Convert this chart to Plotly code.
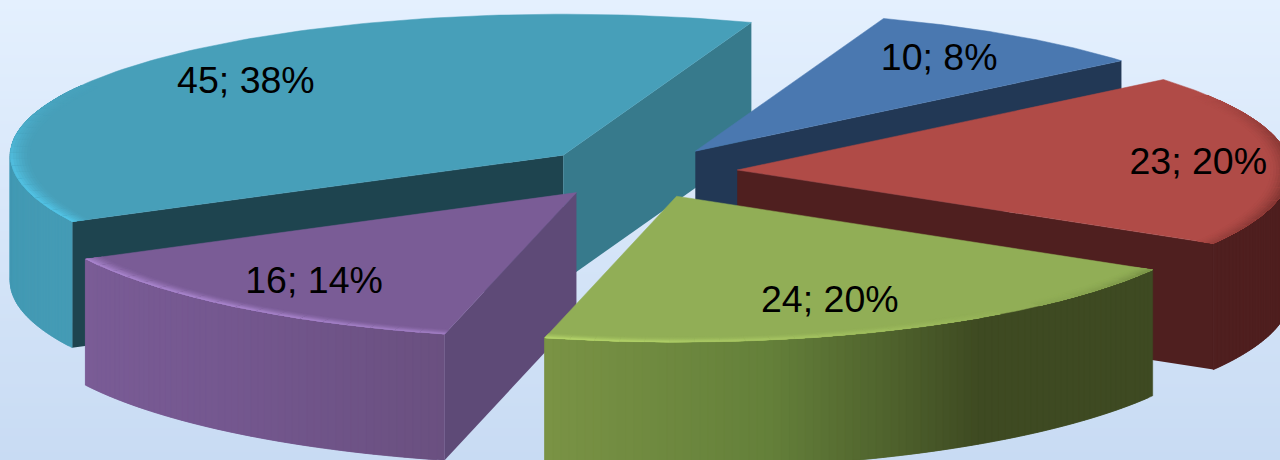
import numpy as np
import plotly.graph_objects as go

# Slice data, clockwise from the first slice
categories = ["A", "B", "C", "D", "E"]
values = [10, 23, 24, 16, 45]
labels = ["10; 8%", "23; 20%", "24; 20%", "16; 14%", "45; 38%"]

# Colour per slice
top_colors = ["#4a78b0", "#b04b47", "#91ae56", "#7a5c96", "#479fb9"]
start_wall_colors = ["#223855", "#4f1f1f", "#3e4a22", "#5e4a77", "#1e444f"]
end_wall_colors = ["#223855", "#4f1f1f", "#3e4a22", "#5e4a77", "#377a8c"]
rim_light_colors = ["#7fa8dc", "#d9706c", "#bfe070", "#a884cc", "#52c4e6"]
rim_dark_colors = ["#2c4a72", "#6a2a27", "#4a5a28", "#4a3760", "#2a6a80"]
# Side-wall colours along each slice's arc, (fraction of the arc, colour)
side_stops = [
    [(0, "#223855"), (1, "#223855")],
    [(0, "#4f1f1f"), (1, "#4f1f1f")],
    [(0, "#3e4a22"), (0.36, "#3e4a22"), (0.68, "#64803a"), (1, "#7a9345")],
    [(0, "#6a5080"), (0.5, "#74578f"), (1, "#7a5c96")],
    [(0, "#449bb5"), (1, "#3f93ad")],
]

# Pie geometry in page pixels
ROTATION = 19.9
CENTER_X, CENTER_Y = 638.0, 172.0
RADIUS_X = 553.0
RADIUS_Y_FAR, RADIUS_Y_NEAR = 141.0, 146.0
EXPLODE = 0.18
DEPTH = 126.0
LABEL_RADIUS = 0.78
LABEL_NUDGE = [(-4.5, 0), (31, 3), (-14, 2), (4.4, 2), (7, 1)]
LABEL_SIZE = 37.5
RIM_START = 0.965
RIM_RINGS = 7

# Paint order, back to front
DRAW_ORDER = [4, 0, 1, 3, 2]


def hex_rgb(c):
    return np.array([int(c[i:i + 2], 16) for i in (1, 3, 5)], dtype=float)


def mix(a, b, t):
    rgb = hex_rgb(a) * (1 - t) + hex_rgb(b) * t
    return "rgb({:.0f},{:.0f},{:.0f})".format(*rgb)


def ramp(stops, t):
    for (t0, c0), (t1, c1) in zip(stops, stops[1:]):
        if t <= t1:
            return mix(c0, c1, (t - t0) / (t1 - t0))
    return stops[-1][1]


def arc(ax, ay, r, deg):
    rad = np.radians(deg)
    c = np.cos(rad)
    ry = (RADIUS_Y_FAR + RADIUS_Y_NEAR) / 2 + (RADIUS_Y_FAR - RADIUS_Y_NEAR) / 2 * c
    return ax + RADIUS_X * r * np.sin(rad), ay - ry * r * c


def poly(xs, ys, color, edge=0.0):
    return go.Scatter(
        x=list(xs), y=list(ys), mode="lines", fill="toself", fillcolor=color,
        line=dict(color=color, width=edge), hoverinfo="skip", showlegend=False,
    )


total = sum(values)
sweeps = [v / total * 360 for v in values]
starts = [ROTATION + sum(sweeps[:i]) for i in range(len(values))]

fig = go.Figure()

# Page background: soft vertical gradient
fig.add_trace(go.Heatmap(
    x=[0, 1280], y=[0, 460], z=[[0, 0], [1, 1]], zsmooth="best", showscale=False,
    colorscale=[[0, "#e4f0fe"], [1, "#c8dbf3"]], hoverinfo="skip",
))

label_x, label_y = [], []
for i in DRAW_ORDER:
    a0, a1 = starts[i], starts[i] + sweeps[i]
    mid = (a0 + a1) / 2
    ax, ay = arc(CENTER_X, CENTER_Y, EXPLODE, mid)

    # Flat cut faces, only those turned toward the viewer
    for ang, col, facing in (
        (a0, start_wall_colors[i], np.sin(np.radians(a0)) < 0),
        (a1, end_wall_colors[i], np.sin(np.radians(a1)) > 0),
    ):
        if facing:
            ex, ey = arc(ax, ay, 1, ang)
            fig.add_trace(poly([ax, ex, ex, ax, ax],
                               [ay, ey, ey + DEPTH, ay + DEPTH, ay], col))

    # Curved outer wall; each strip runs one step past the next so no seams show
    grid = np.linspace(a0, a1, max(int(sweeps[i] * 1.2), 16))
    for n in range(len(grid) - 1):
        p, q = grid[n], grid[min(n + 2, len(grid) - 1)]
        if np.cos(np.radians((grid[n] + grid[n + 1]) / 2)) > 0.02:
            continue
        sx = np.linspace(p, q, 3)
        ox, oy = arc(ax, ay, 1, sx)
        t = ((grid[n] + grid[n + 1]) / 2 - a0) / (a1 - a0)
        fig.add_trace(poly(np.r_[ox, ox[::-1], ox[0]],
                           np.r_[oy, oy[::-1] + DEPTH, oy[0]],
                           ramp(side_stops[i], t), edge=0.5))

    # Top face
    top = np.linspace(a0, a1, 120)
    tx, ty = arc(ax, ay, 1, top)
    fig.add_trace(poly(np.r_[ax, tx, ax], np.r_[ay, ty, ay], top_colors[i], edge=0.5))

    # Bevelled rim, lit from the lower left and fading toward the back
    segs = np.linspace(a0, a1, max(int(sweeps[i] / 2.5), 8))
    rings = np.linspace(RIM_START, 1.0, RIM_RINGS + 1)
    for n in range(len(segs) - 1):
        p, q = segs[n], segs[min(n + 2, len(segs) - 1)]
        m = (segs[n] + segs[n + 1]) / 2
        shade = np.cos(np.radians(m - 230))
        shade *= np.clip((0.55 - np.cos(np.radians(m))) / 0.6, 0, 1)
        if abs(shade) < 0.05:
            continue
        tint = rim_light_colors[i] if shade > 0 else rim_dark_colors[i]
        for k, r0 in enumerate(rings[:-1]):
            level = abs(shade) * ((k + 1) / RIM_RINGS) ** 1.5
            sx = np.linspace(p, q, 4)
            ox, oy = arc(ax, ay, 1.0, sx)
            ix, iy = arc(ax, ay, r0, sx[::-1])
            fig.add_trace(poly(np.r_[ox, ix, ox[0]], np.r_[oy, iy, oy[0]],
                               mix(top_colors[i], tint, level)))

# Data labels sit on one radius inside each slice
for i in range(len(values)):
    mid = starts[i] + sweeps[i] / 2
    ax, ay = arc(CENTER_X, CENTER_Y, EXPLODE, mid)
    lx, ly = arc(ax, ay, LABEL_RADIUS, mid)
    label_x.append(lx + LABEL_NUDGE[i][0])
    label_y.append(ly + LABEL_NUDGE[i][1])

fig.add_trace(go.Scatter(
    x=label_x, y=label_y, mode="text", text=labels, textposition="middle center",
    textfont=dict(family="Liberation Sans", size=LABEL_SIZE, color="#000000"),
    hoverinfo="skip", showlegend=False,
))

fig.update_layout(
    width=1280, height=460, autosize=False,
    margin=dict(l=0, r=0, t=0, b=0), showlegend=False,
    paper_bgcolor="#dbe8fa", plot_bgcolor="rgba(0,0,0,0)", hovermode=False,
    xaxis=dict(range=[0, 1280], visible=False, fixedrange=True),
    yaxis=dict(range=[460, 0], visible=False, fixedrange=True),
)
fig.write_html("out.html", config=dict(displayModeBar=False))
